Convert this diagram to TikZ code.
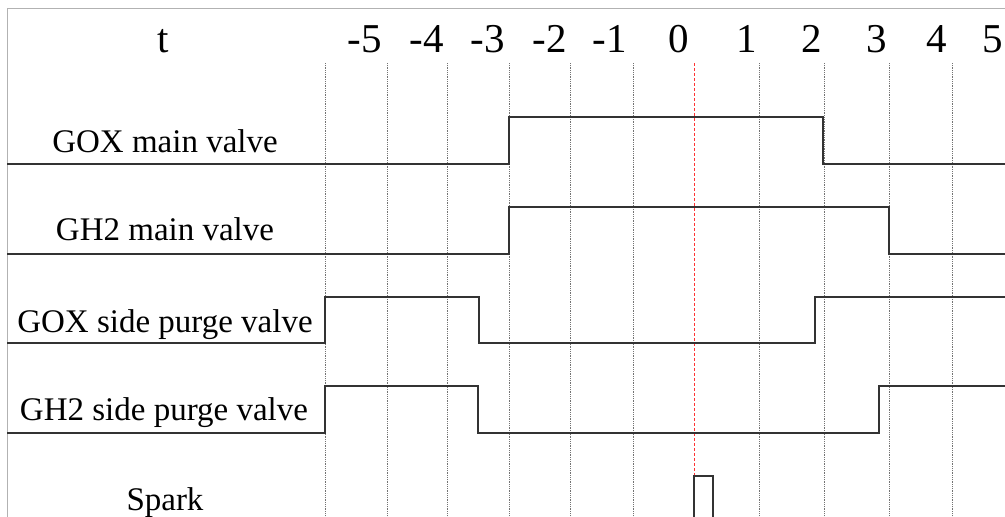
\documentclass[tikz,border=0pt]{standalone}
\usepackage{fontspec}
\setmainfont{Liberation Serif}
\begin{document}
\begin{tikzpicture}[x=1pt,y=-1pt,
  label/.style={anchor=base,inner sep=0pt,font=\fontsize{33}{36}\selectfont},
  tick/.style={anchor=base,inner sep=0pt,font=\fontsize{41}{44}\selectfont},
  grid/.style={black!55,line width=0.8pt,densely dotted},
  signal/.style={black!80,line width=1.6pt}]
\useasboundingbox (0,0) rectangle (1005,517);
\draw[black!30,line width=1pt] (1005,8) -- (7,8) -- (7,517);
\node[tick] (t) at (163,52) {t};
\foreach \x/\n in {365/-5,427/-4,488/-3,550/-2,610/-1,679/0,747/1,812/2,877/3,937/4,993/5}
  \node[tick] (tick\n) at (\x,52) {\n};
\foreach \x in {325,387,447,509,570,633,759,824,889,952}
  \draw[grid] (\x,63) -- (\x,517);
\draw[red!80,line width=0.8pt,densely dashed] (694,63) -- (694,476);
\node[label] (goxmain) at (165,152) {GOX main valve};
\node[label] (gh2main) at (165,240) {GH2 main valve};
\node[label] (goxpurge) at (165,332) {GOX side purge valve};
\node[label] (gh2purge) at (164,420) {GH2 side purge valve};
\node[label] (spark) at (165,510) {Spark};
\draw[signal] (7,164) -- (509,164) -- (509,117) -- (823,117) -- (823,164) -- (1005,164);
\draw[signal] (7,254) -- (509,254) -- (509,207) -- (889,207) -- (889,254) -- (1005,254);
\draw[signal] (7,343) -- (325,343) -- (325,297) -- (479,297) -- (479,343) -- (815,343) -- (815,297) -- (1005,297);
\draw[signal] (7,433) -- (325,433) -- (325,386) -- (478,386) -- (478,433) -- (879,433) -- (879,386) -- (1005,386);
\draw[signal] (694,517) -- (694,476) -- (713,476) -- (713,517);
\end{tikzpicture}
\end{document}
